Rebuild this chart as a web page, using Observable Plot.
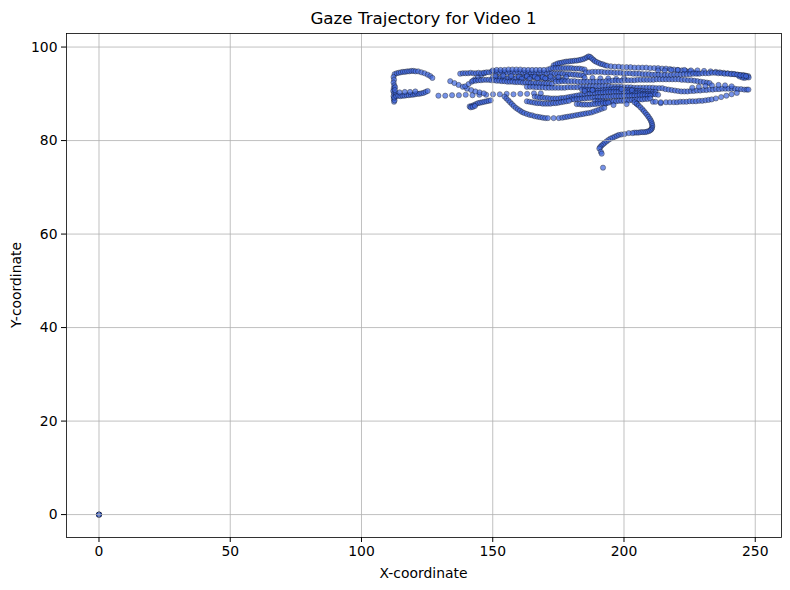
<!DOCTYPE html>
<html>
<head>
<meta charset="utf-8">
<script src="https://cdn.jsdelivr.net/npm/d3@7"></script>
<script src="https://cdn.jsdelivr.net/npm/@observablehq/plot@0.6"></script>
<style>
  html, body { margin: 0; padding: 0; background: white; }
  #chart { width: 790px; height: 590px; }
</style>
</head>
<body>
<div id="chart"></div>
<script>
// ---- Data, [x, y] gaze samples per stroke ----
const xTicks = [0, 50, 100, 150, 200, 250];
const yTicks = [0, 20, 40, 60, 80, 100];

const originPts = [[0,0],[0,0],[0.05,0.03],[-0.05,-0.03],[0,0]];

const hookTop = [[112.6,94.2],[113.4,94.4],[114.2,94.5],[115,94.6],[115.8,94.7],[116.6,94.7],[117.4,94.8],[118.2,94.8],[119,94.9],[119.8,94.9],[120.6,94.8],[121.6,94.8],[122.8,94.6],[124,94.4],[125.2,94.1],[126.2,93.8],[127,93.4]];
const hookSide = [[112.2,93.6],[112.4,93],[112.2,92.4],[112.5,91.8],[112.3,91.2],[112.1,90.6],[112.4,90.1],[112.2,89.5],[112.3,88.9],[112.4,88.3],[112.8,91.4],[113,90.2],[112.6,88.6],[112.5,89.2],[112.7,90.8]];
const hookBottom = [[113.2,89.5],[114,89.6],[114.8,89.5],[115.6,89.6],[116.4,89.6],[117.2,89.7],[118,89.7],[118.8,89.8],[119.6,89.8],[120.4,89.9],[121.2,90.0],[122,90.0],[122.8,90.1],[123.6,90.2],[124.4,90.4],[125.2,90.6],[114.5,90.3],[116.5,90.4],[118.5,90.4],[120.5,90.5]];
const dottedRow = [[129.3,89.6],[131.9,89.6],[134.5,89.7],[137.1,89.7],[139.7,89.8],[142.3,89.7],[144.9,89.8],[147.5,89.8],[150.1,89.9],[152.7,89.9],[155.3,90.0],[157.9,89.9],[160.5,90.0],[163.1,90.0],[165.7,90.1],[168.3,90.1]];
const diagLight = [[133.8,92.7],[135.4,92.3],[137,91.9],[138.6,91.5],[140.2,91.1],[141.8,90.8],[143.4,90.5],[145,90.3],[146.6,90.1]];
const diagUp = [[139.5,91.6],[140.8,92.1],[142,92.6],[143.2,93.1],[144.4,93.6],[145.6,94.0],[146.8,94.4]];
const rowLeft = [[137.6,94.3],[138.6,94.4],[139.6,94.4],[140.6,94.4],[141.6,94.5],[142.6,94.4],[143.6,94.4],[144.6,94.5]];

const bump = [[173.2,96.1],[174,96.3],[174.8,96.5],[175.6,96.6],[176.4,96.7],[177.2,96.8],[178,96.9],[178.8,96.9],[179.6,97.0],[180.4,97.0],[181.2,97.1],[182,97.1],[182.8,97.2],[183.6,97.3],[184.4,97.4],[185.2,97.6],[185.9,97.8],[186.5,98.0],[187.1,97.9],[187.7,97.6],[188.3,97.3],[188.9,97.0],[189.6,96.8],[190.4,96.6],[191.2,96.4],[192,96.3],[192.8,96.1],[193.6,96.0]];
const topRight = [[195,95.9],[196.5,95.8],[198,95.8],[199.5,95.7],[201,95.7],[202.5,95.7],[204,95.6],[205.5,95.6],[207,95.6],[208.5,95.6],[210,95.5],[211.5,95.5],[213,95.5],[214.5,95.4],[216,95.4],[217.5,95.3],[219,95.2],[220.5,95.1],[222,95.0],[223.5,94.9],[225,94.8],[226.5,94.6],[228,94.4]];
const topRightLight = [[213,95.0],[215.5,95.0],[218,95.1],[220.5,95.1],[223,95.1],[225.5,95.0],[228,95.0],[230.5,94.9],[233,94.8],[235,94.7],[236.5,94.6],[238,94.5],[239.5,94.4],[241,94.3],[242.2,94.2],[243.4,94.1],[244.4,94.0],[245.4,94.0],[246.3,93.9],[247.3,93.8],[247.5,93.5],[246.6,93.5],[245.8,93.4],[245,93.5],[244,93.7]];
const band94 = [[145.6,94.4],[146.6,94.5],[147.6,94.6],[148.6,94.6],[149.6,94.7],[150.6,94.7],[151.6,94.6],[152.6,94.6],[153.6,94.6],[154.6,94.6],[155.6,94.5],[156.6,94.5],[157.6,94.5],[158.6,94.6],[159.6,94.6],[160.6,94.6],[161.6,94.5],[162.6,94.5],[163.6,94.5],[164.6,94.4],[165.6,94.4],[166.6,94.4],[167.6,94.5],[168.6,94.5],[169.6,94.5],[170.6,94.4],[171.6,94.4],[172.6,94.4],[173.6,94.3],[174.6,94.3],[175.6,94.3],[176.6,94.3],[177.6,94.2],[178.6,94.2],[179.6,94.2],[180.6,94.1],[181.6,94.1],[182.6,94.0],[183.6,94.0],[184.6,93.9]];
const band95 = [[171,95.2],[172,95.4],[173,95.5],[174,95.5],[175,95.5],[176,95.5],[177,95.5],[178,95.5],[179,95.5],[180,95.5],[181,95.4],[182,95.4],[183,95.4],[184,95.3],[185,95.2]];
const band95Left = [[150,95.0],[151.5,95.1],[153,95.1],[154.5,95.1],[156,95.2],[157.5,95.2],[159,95.2],[160.5,95.2],[162,95.1],[163.5,95.1],[165,95.1],[166.5,95.1],[168,95.1],[169.5,95.1]];
const band94Right = [[185.5,94.6],[186.7,94.6],[187.9,94.7],[189.1,94.7],[190.3,94.7],[191.5,94.7],[192.7,94.6],[193.9,94.6],[195.1,94.6],[196.3,94.5],[197.5,94.5],[198.7,94.5],[199.9,94.4],[201.1,94.4],[202.3,94.4],[203.5,94.3],[204.7,94.3],[205.9,94.3],[207.1,94.2],[208.3,94.2],[209.5,94.2],[210.7,94.1],[211.9,94.1],[213.1,94.1],[214.3,94.0],[215.5,94.0],[216.7,94.0],[217.9,94.0],[219.1,94.1],[220.3,94.1],[221.5,94.1],[222.7,94.2],[223.9,94.2],[225.1,94.2],[226.3,94.3],[227.5,94.3],[228.7,94.3],[229.9,94.4],[231.1,94.4],[232.3,94.4],[233.5,94.5],[234.7,94.5],[235.9,94.4],[237.1,94.4],[238.3,94.3],[239.5,94.3],[240.7,94.2],[241.9,94.2],[243.1,94.1],[244.3,94.0],[245.5,93.9],[246.5,93.8]];
const band935 = [[150,93.5],[151,93.5],[152,93.4],[153,93.4],[154,93.4],[155,93.3],[156,93.3],[157,93.3],[158,93.3],[159,93.4],[160,93.4],[161,93.5],[162,93.5],[163,93.6],[164,93.6],[165,93.6],[166,93.5],[167,93.5],[168,93.4],[169,93.4],[170,93.3],[171,93.3],[172,93.2],[173,93.2],[174,93.1],[175,93.1],[176,93.0],[177,93.0]];
const light936 = [[151,93.8],[154,93.9],[157,93.8],[160,93.7],[163,93.8],[166,93.7],[169,93.6],[172,93.7],[175,93.6],[178,93.6],[161,93.2],[164,93.2],[167,93.3],[170,93.3],[185,93.4],[188,93.4],[191,93.3],[194,93.3],[197,93.2],[200,93.3]];
const band92Left = [[142.5,92.8],[143.5,92.8],[144.5,92.9],[145.5,92.9],[146.5,93.0],[147.5,93.0],[148.5,93.0],[149.5,92.9],[150.5,92.9],[151.5,92.8],[152.5,92.8],[153.5,92.7],[154.5,92.7],[155.5,92.6],[156.5,92.6],[157.5,92.6],[158.5,92.5],[159.5,92.5],[160.5,92.5],[161.5,92.4],[162.5,92.4],[163.5,92.4],[164.5,92.3],[165.5,92.3],[166.5,92.3],[167.5,92.3],[168.5,92.2],[169.5,92.2],[170.5,92.2],[171.5,92.2],[172.5,92.1]];
const band92Right = [[174,92.6],[175.2,92.6],[176.4,92.7],[177.6,92.7],[178.8,92.7],[180,92.7],[181.2,92.7],[182.4,92.6],[183.6,92.6],[184.8,92.6],[186,92.6],[187.2,92.6],[188.4,92.6],[189.6,92.6],[190.8,92.6],[192,92.6],[193.2,92.7],[194.4,92.7],[195.6,92.8],[196.8,92.8],[198,92.8],[199.2,92.8],[200.4,92.9],[201.6,92.9],[202.8,92.9],[204,92.9],[205.2,93.0],[206.4,93.0],[207.6,93.0],[208.8,93.0],[210,93.0],[211.2,93.0],[212.4,93.1],[213.6,93.1],[214.8,93.1],[216,93.1],[217.2,93.1],[218.4,93.1],[219.6,93.1],[220.8,93.1],[222,93.0],[223.2,93.0],[224.4,92.9],[225.6,92.9],[226.8,92.8],[228,92.7],[229.2,92.6],[230.4,92.5],[231.6,92.4],[232.6,92.3]];
const band91 = [[163,91.5],[164.2,91.5],[165.4,91.5],[166.6,91.4],[167.8,91.4],[169,91.4],[170.2,91.3],[171.4,91.3],[172.6,91.3],[173.8,91.3],[175,91.3],[176.2,91.3],[177.4,91.3],[178.6,91.4],[179.8,91.4],[181,91.4],[182.2,91.4],[183.4,91.5],[184.6,91.5],[185.8,91.5],[187,91.6],[188.2,91.6],[189.4,91.6],[190.6,91.6],[191.8,91.6],[193,91.6],[194.2,91.6],[195.4,91.5],[196.6,91.5],[197.8,91.5],[199,91.5],[200.2,91.4],[201.4,91.4],[202.6,91.4],[203.8,91.3],[205,91.3],[206.2,91.3],[207.4,91.3],[208.6,91.3],[209.8,91.3],[211,91.3],[212.2,91.2],[213.4,91.2],[214.6,91.2]];
const band91Right = [[215.8,91.0],[217,90.9],[218.2,90.8],[219.4,90.7],[220.6,90.6],[221.8,90.5],[223,90.5],[224.2,90.5],[225.4,90.6],[226.6,90.6],[227.8,90.7],[229,90.7],[230.2,90.8],[231.4,90.8],[232.6,90.9],[233.8,90.9],[235,91.0],[236.2,91.0],[237.4,91.1],[238.6,91.1],[239.8,91.1],[241,91.1],[242.2,91.1],[243.4,91.0],[244.6,91.0],[245.8,90.9],[246.8,90.9],[247.4,90.9]];
const light915 = [[226,91.3],[228.5,91.5],[231,91.7],[233.5,91.8],[236,91.9],[238.5,91.8],[241,91.6]];
const center908 = [[184,90.9],[185,90.9],[186,90.8],[187,90.8],[188,90.8],[189,90.7],[190,90.7],[191,90.7],[192,90.8],[193,90.8],[194,90.9],[195,90.9],[196,91.0],[197,91.0],[198,91.0],[199,90.9],[200,90.9],[201,90.8],[202,90.8],[203,90.7],[204,90.7],[205,90.6],[206,90.6],[207,90.6],[208,90.5],[209,90.5],[210,90.5],[211,90.4],[212,90.4]];
const center90 = [[166,89.4],[167,89.3],[168,89.2],[169,89.2],[170,89.1],[171,89.1],[172,89.0],[173,89.0],[174,89.0],[175,89.0],[176,89.1],[177,89.1],[178,89.2],[179,89.3],[180,89.4],[181,89.5],[182,89.6],[183,89.7],[184,89.8],[185,89.9],[186,90.0],[187,90.0],[188,90.1],[189,90.1],[190,90.2],[191,90.2],[192,90.3],[193,90.3],[194,90.4],[195,90.4],[196,90.4],[197,90.4],[198,90.4],[199,90.4],[200,90.3],[201,90.3],[202,90.3],[203,90.2],[204,90.2],[205,90.1],[206,90.1],[207,90.0],[208,90.0],[209,90.0],[210,89.9],[211,89.9],[212,89.9],[213,89.8]];
const center89 = [[180,88.8],[181,88.8],[182,88.9],[183,88.9],[184,89.0],[185,89.0],[186,89.1],[187,89.1],[188,89.2],[189,89.2],[190,89.3],[191,89.3],[192,89.3],[193,89.4],[194,89.4],[195,89.4],[196,89.5],[197,89.5],[198,89.5],[199,89.5],[200,89.6],[201,89.6],[202,89.6],[203,89.6],[204,89.6],[205,89.6],[206,89.7],[207,89.7],[208,89.7],[209,89.6],[210,89.6]];
const center88 = [[189,88.5],[190,88.4],[191,88.4],[192,88.4],[193,88.3],[194,88.3],[195,88.3],[196,88.4],[197,88.4],[198,88.5],[199,88.5],[200,88.5],[201,88.6],[202,88.6],[203,88.7],[204,88.7],[205,88.8],[206,88.8],[207,88.8],[208,88.9],[209,88.9],[210,89.0]];
const centerLight = [[185,90.6],[188,90.8],[199,91.0],[203,90.8],[211,88.3],[214,88.0],[196,87.6],[201,87.8],[205,87.8],[193,87.9]];
const blobLeft = [[141.2,87.3],[142,87.4],[142.8,87.6],[143.6,87.8],[144.4,88.0],[145.2,88.1],[146,88.2],[146.8,88.3],[147.6,88.4],[148.4,88.5],[149.2,88.6],[141.6,87.1],[142.4,87.2],[143.2,87.4]];
const descent = [[154.5,89.4],[155.2,89.0],[155.9,88.6],[156.6,88.2],[157.3,87.8],[158,87.4],[158.8,87.0],[159.6,86.7],[160.4,86.4],[161.2,86.1],[162,85.9],[163,85.7],[164,85.5],[165,85.4],[166,85.2],[167,85.1],[168,85.0],[169,84.9],[170,84.8],[171,84.8],[173.2,84.8],[175.2,84.8]];
const rise = [[176.5,84.9],[177.5,85.0],[178.5,85.1],[179.5,85.2],[180.5,85.3],[181.5,85.4],[182.5,85.5],[183.5,85.6],[184.5,85.7],[185.5,85.8],[186.5,85.9],[187.5,86.0],[188.5,86.2],[189.5,86.4],[190.5,86.6],[191.5,86.8],[192.5,87.0]];
const band88 = [[163,88.4],[164,88.3],[165,88.2],[166,88.1],[167,88.0],[168,88.0],[169,87.9],[170,87.9],[171,87.9],[172,87.9],[173,88.0],[174,88.0],[175,88.1],[176,88.2],[177,88.3],[178,88.4],[179,88.5],[182,87.8],[183,87.8],[184,87.7],[185,87.7],[186,87.7],[187,87.7],[188,87.8],[189,87.8],[190,87.9],[191,87.9],[192,88.0],[193,88.0],[194,88.1]];
const lowRight = [[212,88.3],[214,88.2],[216,88.2],[217.5,88.2],[219,88.2],[220.2,88.2],[221.4,88.3],[222.6,88.3],[223.8,88.3],[225,88.4],[226.2,88.4],[227.4,88.4],[228.6,88.5],[229.8,88.5],[231,88.6],[232.2,88.7],[233.4,88.8],[235,89.0],[237,89.3],[239,89.6],[241,89.9],[243,90.2]];
const hookDown = [[204,88.2],[204.8,87.9],[205.6,87.5],[206.3,87.1],[207,86.7],[207.6,86.3],[208.2,85.9],[208.8,85.5],[209.3,85.1],[209.8,84.7],[210.2,84.3],[210.5,83.9],[210.7,83.5],[210.8,83.1],[210.7,82.7],[210.4,82.4],[210,82.2],[209.4,82.0],[208.7,81.9],[208,81.8],[207.2,81.8],[206.4,81.8],[205.6,81.7],[204.8,81.7],[204,81.7],[203.2,81.6],[201.8,81.6],[200.2,81.4]];
const tail = [[199,81.3],[198,81.2],[197.2,81.0],[196.4,80.8],[195.6,80.6],[194.8,80.4],[194,80.1],[193.3,79.8],[192.6,79.5],[192,79.2],[191.4,78.9],[190.9,78.6],[190.6,78.3],[191.2,77.6],[191.5,77.2],[192,74.2]];

const strokes = [originPts, hookTop, hookSide, hookBottom, dottedRow, diagLight, diagUp, rowLeft,
  bump, topRight, topRightLight, band94, band95, band95Left, band94Right, band935, light936,
  band92Left, band92Right, band91, band91Right, light915, center908, center90, center89, center88,
  centerLight, blobLeft, descent, rise, band88, lowRight, hookDown, tail];
const points = strokes.flat().map(([x, y]) => ({x, y}));

const W = 790, H = 590;
const mL = 66, mR = 9, mT = 33, mB = 53;

const chart = Plot.plot({
  width: W,
  height: H,
  marginLeft: mL,
  marginRight: mR,
  marginTop: mT,
  marginBottom: mB,
  style: {fontFamily: "DejaVu Sans", fontSize: "13.9px", color: "black", background: "white"},
  x: {domain: [-12.38, 260.0]},
  y: {domain: [-4.9, 102.9]},
  marks: [
    Plot.dot(points, {x: "x", y: "y", r: 2.6, fill: "royalblue", stroke: "black", strokeWidth: 0.5, opacity: 0.72}),
    Plot.gridX(xTicks, {stroke: "#b0b0b0", strokeOpacity: 1, strokeWidth: 0.8}),
    Plot.gridY(yTicks, {stroke: "#b0b0b0", strokeOpacity: 1, strokeWidth: 0.8}),
    Plot.frame({stroke: "black", strokeWidth: 0.8}),
    Plot.axisX(xTicks, {tickSize: 5, tickPadding: 4, label: null, fontSize: 13.9}),
    Plot.axisY(yTicks, {tickSize: 5, tickPadding: 4, label: null, fontSize: 13.9})
  ]
});

document.getElementById("chart").appendChild(chart);

const svg = d3.select(chart);
const cx = mL + (W - mL - mR) / 2;
svg.append("text")
  .attr("x", cx).attr("y", 24)
  .attr("text-anchor", "middle")
  .style("font-family", "DejaVu Sans").style("font-size", "16.7px").attr("fill", "black")
  .text("Gaze Trajectory for Video 1");
svg.append("text")
  .attr("x", cx).attr("y", 578)
  .attr("text-anchor", "middle")
  .style("font-family", "DejaVu Sans").style("font-size", "13.9px").attr("fill", "black")
  .text("X-coordinate");
const cy = mT + (H - mT - mB) / 2;
svg.append("text")
  .attr("transform", `translate(21,${cy}) rotate(-90)`)
  .attr("text-anchor", "middle")
  .style("font-family", "DejaVu Sans").style("font-size", "13.9px").attr("fill", "black")
  .text("Y-coordinate");
</script>
</body>
</html>
